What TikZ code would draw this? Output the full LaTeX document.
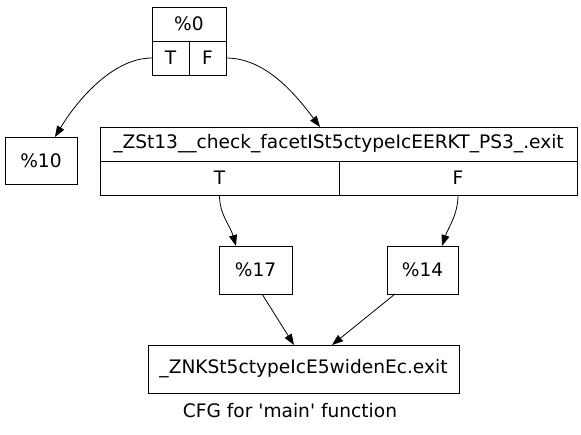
\documentclass[tikz,border=0pt]{standalone}
\usepackage{fontspec}
\setmainfont{DejaVu Sans}
\usetikzlibrary{arrows.meta}
\begin{document}
\begin{tikzpicture}[x=1bp,y=-1bp,
  box/.style={draw,line width=0.8bp,inner sep=0,font=\fontsize{18.6bp}{20bp}\selectfont},
  lbl/.style={inner sep=0,font=\fontsize{18.6bp}{20bp}\selectfont},
  edge/.style={draw,line width=0.8bp,-{Triangle[length=11bp,width=8bp]}}]
\useasboundingbox (0,0) rectangle (581,435);
% %0 record
\node[box,minimum width=74bp,minimum height=68bp] (n0) at (189,41) {};
\draw[line width=0.8bp] (152,41) -- (226,41) (189,41) -- (189,75);
\node[lbl] (n0t) at (189,24) {\%0};
\node[lbl] (n0T) at (170.5,58) {T};
\node[lbl] (n0F) at (207.5,58) {F};
\coordinate (p0T) at (152,58);
\coordinate (p0F) at (226,58);
% %10
\node[box,minimum width=72bp,minimum height=47bp] (n10) at (41,161) {\%10};
% check facet record
\node[box,minimum width=477bp,minimum height=68bp] (n1) at (338.5,161) {};
\draw[line width=0.8bp] (100,161.5) -- (577,161.5) (339,161.5) -- (339,195);
\node[lbl] (n1t) at (338.5,144) {\_ZSt13\_\_check\_facetISt5ctypeIcEERKT\_PS3\_.exit};
\node[lbl] (n1T) at (219.5,178) {T};
\node[lbl] (n1F) at (458,178) {F};
\coordinate (p1T) at (219.5,195);
\coordinate (p1F) at (458,195);
% %17, %14
\node[box,minimum width=73bp,minimum height=48bp] (n17) at (255.5,270) {\%17};
\node[box,minimum width=71bp,minimum height=48bp] (n14) at (422.5,270) {\%14};
% exit
\node[box,minimum width=311bp,minimum height=48bp] (nx) at (303.5,369) {\_ZNKSt5ctypeIcE5widenEc.exit};
\node[lbl] (cap) at (290,411) {CFG for \textquotesingle main\textquotesingle{} function};
% edges
\draw[edge] (p0T) .. controls (112,58) and (76,102) .. (55,137);
\draw[edge] (p0F) .. controls (266,58) and (296,95) .. (320,127);
\draw[edge] (p1T) .. controls (219.5,215) and (230,225) .. (236,246);
\draw[edge] (p1F) .. controls (458,215) and (448,228) .. (442,246);
\draw[edge] (262,294) -- (294,345);
\draw[edge] (395,294) -- (332,345);
\end{tikzpicture}
\end{document}
